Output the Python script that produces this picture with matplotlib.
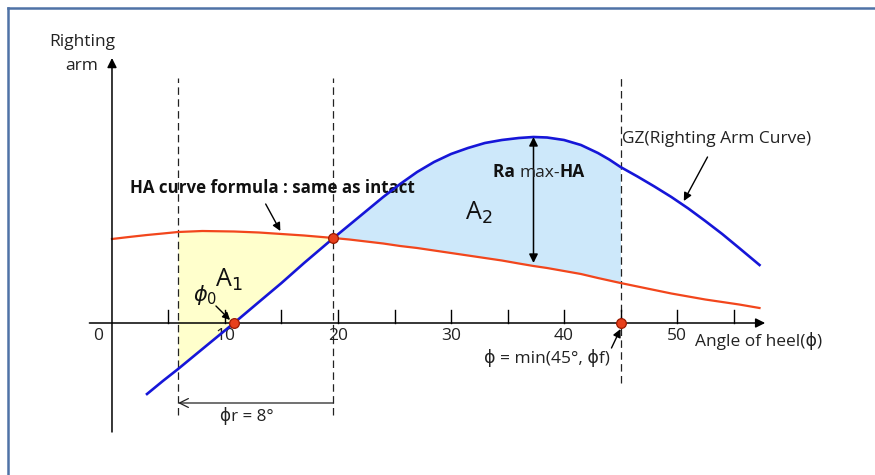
import matplotlib.pyplot as plt
import numpy as np

plt.rcParams["font.family"] = ["Open Sans", "DejaVu Sans"]

# heel angle (deg) shared by both curves
ANGLES = [0, 1.5, 3.1, 4.5, 5.85, 8, 10.8, 13, 15, 17, 19.6, 21, 22.5, 24,
          25.5, 27, 28.5, 30, 31.5, 33, 34.5, 36, 37.3, 38.5, 40, 41.5, 43,
          44, 45, 46.5, 48, 49.5, 51, 52.5, 54, 55.5, 57.3]
# righting arm GZ (starts at 3.1 deg)
GZ = [np.nan, np.nan, -0.71, -0.58, -0.46, -0.26, 0.0, 0.21, 0.40, 0.60,
      0.85, 0.98, 1.12, 1.26, 1.39, 1.51, 1.61, 1.69, 1.75, 1.80, 1.83, 1.85,
      1.86, 1.855, 1.83, 1.78, 1.70, 1.635, 1.56, 1.465, 1.365, 1.26, 1.145,
      1.02, 0.89, 0.75, 0.58]
# heeling arm HA
HA = [0.84, 0.86, 0.88, 0.895, 0.91, 0.92, 0.915, 0.905, 0.89, 0.875, 0.85,
      0.835, 0.815, 0.795, 0.77, 0.75, 0.725, 0.70, 0.675, 0.65, 0.625, 0.595,
      0.57, 0.55, 0.52, 0.49, 0.45, 0.425, 0.40, 0.365, 0.33, 0.295, 0.265,
      0.235, 0.21, 0.185, 0.15]

TICKS = [5, 10, 15, 20, 25, 30, 35, 40, 45, 50, 55]
TICK_LABELS = {10: "10", 20: "20", 30: "30", 40: "40", 50: "50"}

PHI_LEFT = 5.85   # start of A1
PHI_0 = 10.8      # GZ = 0
PHI_X = 19.6      # GZ meets HA
PHI_F = 45        # end of A2
PHI_MAX = 37.3    # GZ maximum

ang = np.array(ANGLES)
gz = np.array(GZ)
ha = np.array(HA)

fig = plt.figure(figsize=(8.75, 4.75), dpi=100)
ax = fig.add_axes([0, 0, 1, 1])
ax.set_xlim(-9.91, 67.52)
ax.set_ylim(-1.52, 3.23)
ax.axis("off")

# frame
fig.add_artist(plt.Line2D([0.009, 0.009], [0, 0.983], color="#4f72a6", lw=1.8))
fig.add_artist(plt.Line2D([0.009, 1], [0.983, 0.983], color="#4f72a6", lw=1.8))

# areas
ax.fill_between(ang, gz, ha, where=(ang >= PHI_LEFT) & (ang <= PHI_X),
                color="#ffffcc", lw=0, zorder=1)
ax.fill_between(ang, gz, ha, where=(ang >= PHI_X) & (ang <= PHI_F),
                color="#cde8fa", lw=0, zorder=1)

FS = 12.5
TXT = "#222"

def arrow(tip, tail, **kw):
    props = dict(arrowstyle="-|>", color="black", lw=1.0,
                 mutation_scale=12, shrinkA=0, shrinkB=0)
    props.update(kw)
    ax.annotate("", xy=tip, xytext=tail, arrowprops=props, zorder=5)

# axes
arrow((57.8, 0), (-2, 0), lw=1.1, mutation_scale=14)
arrow((0, 2.65), (0, -1.09), lw=1.1, mutation_scale=14)
for t in TICKS:
    ax.plot([t, t], [0, 0.13], color="black", lw=1.0, zorder=3)
for t, lab in TICK_LABELS.items():
    ax.text(t, -0.13, lab, ha="center", va="center", fontsize=FS, color=TXT)
ax.text(-1.24, -0.13, "0", ha="center", va="center", fontsize=FS, color=TXT)
ax.text(-2.65, 2.81, "Righting", ha="center", va="center", fontsize=FS, color=TXT)
ax.text(-2.65, 2.57, "arm", ha="center", va="center", fontsize=FS, color=TXT)
ax.text(51.6, -0.18, "Angle of heel(ϕ)", ha="left", va="center", fontsize=FS,
        color=TXT)

# dashed guides
for x, ybot in [(PHI_LEFT, -0.92), (PHI_X, -0.92), (PHI_F, -0.60)]:
    ax.plot([x, x], [ybot, 2.45], color=TXT, lw=0.9, ls=(0, (6, 3.5)), zorder=2)

# curves
ax.plot(ang, ha, color="#f2461c", lw=1.6, zorder=4)
ax.plot(ang, gz, color="#1616d8", lw=1.9, zorder=4)

# points
i_x = ANGLES.index(PHI_X)
ax.plot([PHI_0, PHI_X, PHI_F], [0, HA[i_x], 0], "o", ms=7,
        mfc="#e8401c", mec="#9a1a00", mew=0.9, zorder=6)

# phi_r dimension
arrow((PHI_LEFT, -0.80), (PHI_X, -0.80), arrowstyle="->", color=TXT,
      lw=0.9, mutation_scale=16)
ax.text(11.95, -0.93, "ϕr = 8°", ha="center", va="center", fontsize=12.2, color=TXT)

# Ra max - HA
i_m = ANGLES.index(PHI_MAX)
arrow((PHI_MAX, GZ[i_m]), (PHI_MAX, HA[i_m] + 0.03), arrowstyle="<|-|>",
      lw=1.1, mutation_scale=13)
t1 = ax.text(33.7, 1.51, "Ra ", ha="left", va="center", fontsize=12.5,
             fontweight="bold", color="#111", zorder=6)
t2 = ax.annotate("max-", xy=(1, 0), xycoords=t1, ha="left", va="bottom",
                 fontsize=12.5, color=TXT, zorder=6)
ax.annotate("HA", xy=(1, 0), xycoords=t2, ha="left", va="bottom",
            fontsize=12.5, fontweight="bold", color="#111", zorder=6)

# labels
ax.text(1.6, 1.35, "HA curve formula : same as intact", ha="left", va="center",
        fontsize=12.2, fontweight="bold", color="#111")
arrow((14.9, 0.92), (13.6, 1.19))
ax.text(45.15, 1.84, "GZ(Righting Arm Curve)", ha="left", va="center",
        fontsize=FS, color=TXT)
arrow((50.6, 1.22), (52.7, 1.66))
ax.text(44.1, -0.35, "ϕ = min(45°, ϕf)", ha="right", va="center",
        fontsize=FS, color=TXT)
arrow((PHI_F, -0.06), (44.2, -0.25))

ax.text(31.2, 1.10, r"A$_2$", ha="left", va="center", fontsize=18, color="#111")
ax.text(9.1, 0.43, r"A$_1$", ha="left", va="center", fontsize=18, color="#111")
ax.text(7.2, 0.28, r"$\phi_0$", ha="left", va="center", fontsize=15, color="#111")
arrow((10.45, 0.03), (9.2, 0.17), mutation_scale=11)

fig.savefig("out.png", dpi=100)
